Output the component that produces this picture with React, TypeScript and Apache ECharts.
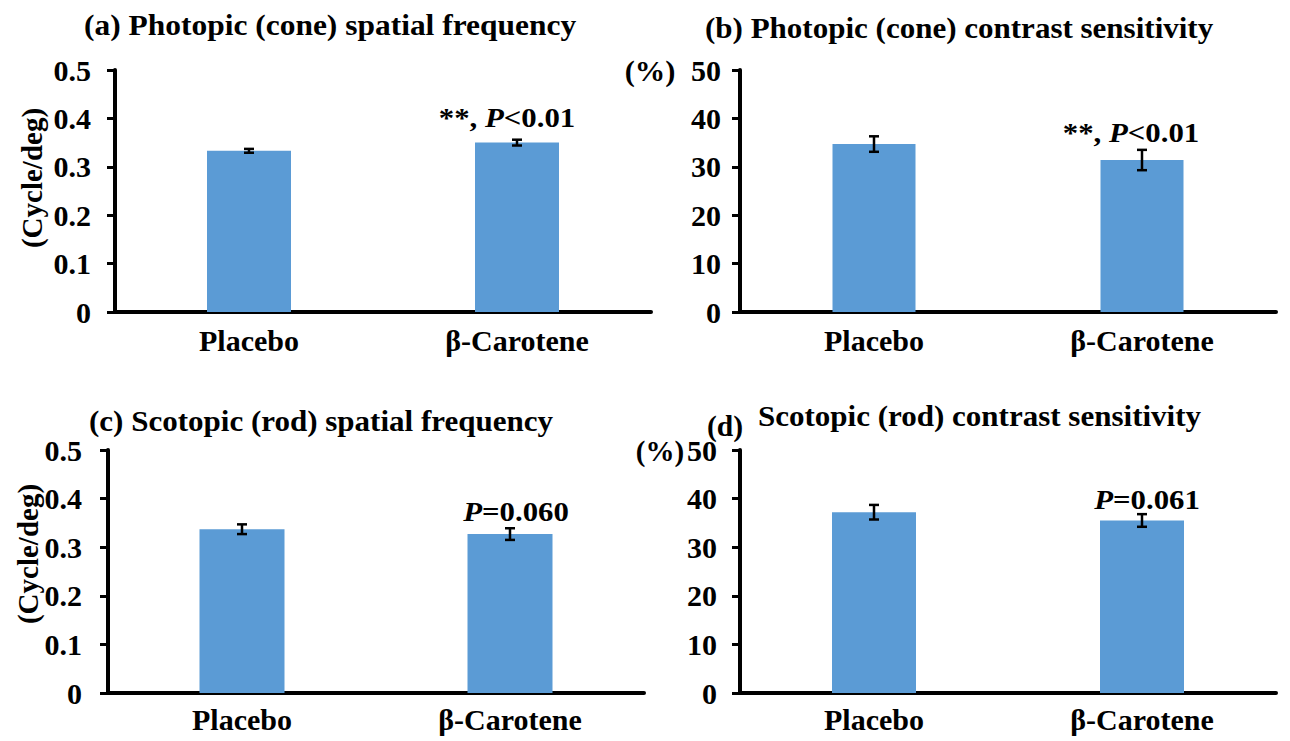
import React, { useEffect, useRef } from "react";
import * as echarts from "echarts";

const categories = ["Placebo", "β-Carotene"];

const coneFreqValues = [0.333, 0.35];
const coneFreqErrors = [0.004, 0.006];
const coneContrastValues = [34.7, 31.4];
const coneContrastErrors = [1.6, 2.1];
const rodFreqValues = [0.337, 0.327];
const rodFreqErrors = [0.01, 0.012];
const rodContrastValues = [37.2, 35.5];
const rodContrastErrors = [1.5, 1.3];

const coneFreqNotes = ["", "**, P<0.01"];
const coneContrastNotes = ["", "**, P<0.01"];
const rodFreqNotes = ["", "P=0.060"];
const rodContrastNotes = ["", "P=0.061"];

const freqAxis = { min: 0, max: 0.5, interval: 0.1 };
const contrastAxis = { min: 0, max: 50, interval: 10 };

const titleA = "(a) Photopic (cone) spatial frequency";
const titleB = "(b) Photopic (cone) contrast sensitivity";
const titleC = "(c) Scotopic (rod) spatial frequency";
const titleDLabel = "(d)";
const titleD = "Scotopic (rod) contrast sensitivity";
const freqUnit = "(Cycle/deg)";
const pctUnit = "(%)";

const FONT = "Liberation Serif";
const BAR = "#5B9BD5";

function richify(note: string) {
  const idx = note.indexOf("P");
  const before = note.slice(0, idx);
  const after = note.slice(idx + 1);
  return (before ? `{n|${before}}` : "") + "{p|P}" + (after ? `{n|${after}}` : "");
}

function errRender(errs: number[], notes: string[], dx: number, gap: number) {
  return (params: any, api: any) => {
    const i = api.value(0);
    const v = api.value(1);
    const e = errs[params.dataIndex];
    const top = api.coord([i, v + e]);
    const bot = api.coord([i, v - e]);
    const cap = 5;
    const ls = { stroke: "#000", lineWidth: 2.5 };
    const children: any[] = [
      { type: "line", shape: { x1: top[0], y1: top[1], x2: bot[0], y2: bot[1] }, style: ls },
      { type: "line", shape: { x1: top[0] - cap, y1: top[1], x2: top[0] + cap, y2: top[1] }, style: ls },
      { type: "line", shape: { x1: bot[0] - cap, y1: bot[1], x2: bot[0] + cap, y2: bot[1] }, style: ls },
    ];
    const note = notes[params.dataIndex];
    if (note) {
      children.push({
        type: "text",
        x: top[0] + dx,
        y: top[1] - gap,
        scaleX: 1.1,
        style: {
          text: richify(note),
          align: "center",
          verticalAlign: "bottom",
          fill: "#000",
          fontFamily: FONT,
          fontSize: 28,
          fontWeight: "bold",
          rich: {
            n: { fontFamily: FONT, fontSize: 28, fontWeight: "bold", fill: "#000" },
            p: { fontFamily: FONT, fontSize: 28, fontWeight: "bold", fontStyle: "italic", fill: "#000" },
          },
        },
      });
    }
    return { type: "group", children };
  };
}

export default function App() {
  const ref = useRef<HTMLDivElement>(null);
  useEffect(() => {
    if (!ref.current) return;
    const chart = echarts.init(ref.current, null, { renderer: "svg" });

    const grids = [
      { left: 115, top: 70, width: 536, height: 242 },
      { left: 740, top: 70, width: 536, height: 242 },
      { left: 108, top: 450, width: 536, height: 243 },
      { left: 740, top: 450, width: 536, height: 243 },
    ];
    const catMargins = [13, 13, 11, 11];
    const xAxes = grids.map((_, gi) => ({
      type: "category",
      gridIndex: gi,
      data: categories,
      axisLine: { show: true, lineStyle: { color: "#000", width: 4 } },
      axisTick: { show: false },
      axisLabel: {
        color: "#000",
        fontFamily: FONT,
        fontSize: 30,
        fontWeight: "bold",
        margin: catMargins[gi],
      },
    }));
    const axisCfg = [freqAxis, contrastAxis, freqAxis, contrastAxis];
    const labelMargins = [24, 19, 26, 23];
    const yAxes = grids.map((_, gi) => ({
      type: "value",
      gridIndex: gi,
      min: axisCfg[gi].min,
      max: axisCfg[gi].max,
      interval: axisCfg[gi].interval,
      splitLine: { show: false },
      axisLine: { show: true, lineStyle: { color: "#000", width: 4 } },
      axisTick: { show: true, length: 8, lineStyle: { color: "#000", width: 3 } },
      axisLabel: {
        color: "#000",
        fontFamily: FONT,
        fontSize: 30,
        fontWeight: "bold",
        margin: labelMargins[gi],
        formatter: (v: number) =>
          gi % 2 === 0 ? (v === 0 ? "0" : v.toFixed(1)) : String(Math.round(v)),
      },
    }));

    const sets = [
      [coneFreqValues, coneFreqErrors, coneFreqNotes],
      [coneContrastValues, coneContrastErrors, coneContrastNotes],
      [rodFreqValues, rodFreqErrors, rodFreqNotes],
      [rodContrastValues, rodContrastErrors, rodContrastNotes],
    ] as [number[], number[], string[]][];

    const barWidths = [84, 83, 85, 84];
    const noteDx = [-10, -11, 6, 5];
    const noteGap = [8, 3, 3, 1];
    const series: any[] = [];
    sets.forEach(([vals, errs, notes], gi) => {
      series.push({
        type: "bar",
        xAxisIndex: gi,
        yAxisIndex: gi,
        data: vals,
        barWidth: barWidths[gi],
        itemStyle: { color: BAR },
        z: 2,
      });
      series.push({
        type: "custom",
        xAxisIndex: gi,
        yAxisIndex: gi,
        data: vals.map((v, i) => [i, v]),
        renderItem: errRender(errs, notes, noteDx[gi], noteGap[gi]),
        z: 3,
      });
    });

    const titleStyle = (text: string, size = 29) => ({
      text,
      fontFamily: FONT,
      fontSize: size,
      fontWeight: "bold",
      fill: "#000",
    });

    const graphic: any[] = [
      { type: "text", x: 84, y: 25, scaleX: 1.085, style: { ...titleStyle(titleA), align: "left", verticalAlign: "middle" } },
      { type: "text", x: 705, y: 28, scaleX: 1.07, style: { ...titleStyle(titleB), align: "left", verticalAlign: "middle" } },
      { type: "text", x: 89, y: 421, scaleX: 1.07, style: { ...titleStyle(titleC), align: "left", verticalAlign: "middle" } },
      { type: "text", x: 707, y: 426, scaleX: 1.02, style: { ...titleStyle(titleDLabel), align: "left", verticalAlign: "middle" } },
      { type: "text", x: 758, y: 416, scaleX: 1.07, style: { ...titleStyle(titleD), align: "left", verticalAlign: "middle" } },
      { type: "text", x: 32, y: 178, rotation: Math.PI / 2, style: { ...titleStyle(freqUnit, 29), align: "center", verticalAlign: "middle" } },
      { type: "text", x: 28, y: 554, rotation: Math.PI / 2, style: { ...titleStyle(freqUnit, 29), align: "center", verticalAlign: "middle" } },
      { type: "text", x: 650, y: 71, scaleX: 1.05, style: { ...titleStyle(pctUnit, 29), align: "center", verticalAlign: "middle" } },
      { type: "text", x: 660, y: 451, scaleX: 1.0, style: { ...titleStyle(pctUnit, 29), align: "center", verticalAlign: "middle" } },
    ];

    chart.setOption({
      animation: false,
      backgroundColor: "#fff",
      grid: grids,
      xAxis: xAxes,
      yAxis: yAxes,
      series,
      graphic,
    });
    return () => chart.dispose();
  }, []);
  return (
    <div
      ref={ref}
      style={{ position: "fixed", left: 0, top: 0, width: 1290, height: 741, background: "#fff" }}
    />
  );
}
